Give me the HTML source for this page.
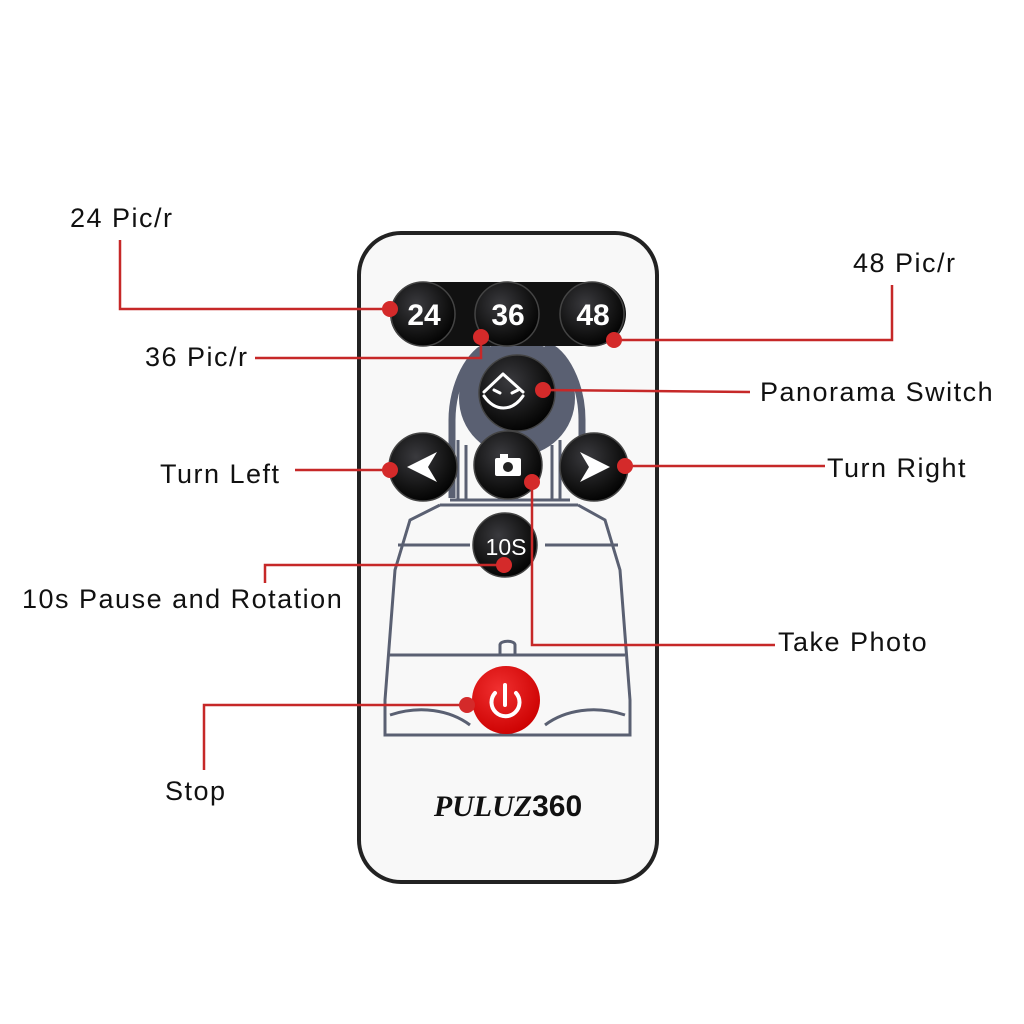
<!DOCTYPE html>
<html><head><meta charset="utf-8"><style>
html,body{margin:0;padding:0;background:#fff}
svg{display:block}
text{font-family:"Liberation Sans",sans-serif}
</style></head><body>
<svg width="1024" height="1024" viewBox="0 0 1024 1024" xmlns="http://www.w3.org/2000/svg">
<defs>
<radialGradient id="bg" cx="40%" cy="35%" r="70%"><stop offset="0" stop-color="#3a3a3e"/><stop offset="0.7" stop-color="#111"/><stop offset="1" stop-color="#000"/></radialGradient>
<radialGradient id="rg" cx="40%" cy="35%" r="70%"><stop offset="0" stop-color="#f03030"/><stop offset="1" stop-color="#c00"/></radialGradient>
</defs>
<rect width="1024" height="1024" fill="#fff"/>
<rect x="359" y="233" width="298" height="649" rx="42" fill="#f8f8f8" stroke="#222" stroke-width="4"/>
<!-- robot illustration -->
<g fill="none" stroke="#5a6072" stroke-width="3">
<path d="M458 440 L458 500 M560 440 L560 500 M466 445 L466 500 M552 445 L552 500"/>
<path d="M450 500 L570 500 M440 505 L578 505"/>
<path d="M440 505 L410 520 L395 570 L385 700 L385 735 L630 735 L630 700 L620 570 L605 520 L578 505"/>
<path d="M398 545 L470 545 M545 545 L618 545"/>
<path d="M388 655 L625 655"/>
<path d="M390 715 C420 705 450 710 470 725 M625 715 C595 705 565 710 545 725"/>
<path d="M500 655 L500 645 C500 640 515 640 515 645 L515 655"/>
</g>
<g fill="none" stroke="#5a6072" stroke-width="7">
<path d="M452 498 L452 420 C452 385 470 350 490 345 M582 498 L582 420 C582 385 565 350 545 345"/>
</g>
<circle cx="517" cy="398" r="58" fill="#5a6072"/>
<!-- button bar -->
<rect x="390" y="282" width="236" height="64" rx="32" fill="#111"/>
<g stroke="#444" stroke-width="1.5">
<circle cx="423" cy="314" r="32" fill="url(#bg)"/>
<circle cx="507" cy="314" r="32" fill="url(#bg)"/>
<circle cx="592" cy="314" r="32" fill="url(#bg)"/>
<circle cx="517" cy="393" r="38" fill="url(#bg)"/>
<circle cx="423" cy="467" r="34" fill="url(#bg)"/>
<circle cx="508" cy="465" r="34" fill="url(#bg)"/>
<circle cx="594" cy="467" r="34" fill="url(#bg)"/>
<circle cx="505" cy="545" r="32" fill="url(#bg)"/>
</g>
<circle cx="506" cy="700" r="34" fill="url(#rg)"/>
<g fill="#fff" font-size="30" font-weight="bold" text-anchor="middle">
<text x="424" y="325">24</text><text x="508" y="325">36</text><text x="593" y="325">48</text>
<text x="506" y="555" font-size="23" font-weight="normal">10S</text>
</g>
<g fill="none" stroke="#fff" stroke-width="3" stroke-linecap="round" stroke-linejoin="round">
<path d="M484 392 L503 374 L523 392"/>
<path d="M484 396 C495 412 512 412 523 396"/>
<path d="M494 390 L500 393 M512 393 L518 390"/>
</g>
<g fill="none" stroke="#fff" stroke-width="4" stroke-linecap="round">
<path d="M505 705 L505 685 M495 693 A14 14 0 1 0 516 693"/>
</g>
<path d="M407 467 L437 452 L428 467 L437 482 Z" fill="#fff"/>
<path d="M610 467 L580 452 L589 467 L580 482 Z" fill="#fff"/>
<rect x="495" y="458" width="26" height="18" rx="2" fill="#fff"/><rect x="500" y="454" width="8" height="5" fill="#fff"/>
<circle cx="508" cy="467" r="5" fill="#222"/>
<text x="508" y="816" font-size="30" font-weight="bold" text-anchor="middle" fill="#111"><tspan font-family="Liberation Serif" font-style="italic">PULUZ</tspan>360</text>
<!-- callouts -->
<g stroke="#c62828" stroke-width="2.5" fill="none">
<path d="M390 309 L120 309 L120 240"/>
<path d="M481 337 L481 358 L255 358"/>
<path d="M614 340 L892 340 L892 285"/>
<path d="M543 390 L750 392"/>
<path d="M390 470 L295 470"/>
<path d="M625 466 L825 466"/>
<path d="M532 480 L532 645 L775 645"/>
<path d="M504 565 L265 565 L265 583"/>
<path d="M465 705 L204 705 L204 770"/>
</g>
<g fill="#d42a2a">
<circle cx="390" cy="309" r="8"/><circle cx="481" cy="337" r="8"/><circle cx="614" cy="340" r="8"/>
<circle cx="543" cy="390" r="8"/><circle cx="390" cy="470" r="8"/><circle cx="625" cy="466" r="8"/>
<circle cx="532" cy="482" r="8"/><circle cx="504" cy="565" r="8"/><circle cx="467" cy="705" r="8"/>
</g>
<g fill="#111" font-size="27" letter-spacing="1.5">
<text x="70" y="227">24 Pic/r</text>
<text x="145" y="366">36 Pic/r</text>
<text x="853" y="272">48 Pic/r</text>
<text x="760" y="401">Panorama Switch</text>
<text x="160" y="483">Turn Left</text>
<text x="827" y="477">Turn Right</text>
<text x="778" y="651">Take Photo</text>
<text x="22" y="608">10s Pause and Rotation</text>
<text x="165" y="800">Stop</text>
</g>
</svg>
</body></html>
